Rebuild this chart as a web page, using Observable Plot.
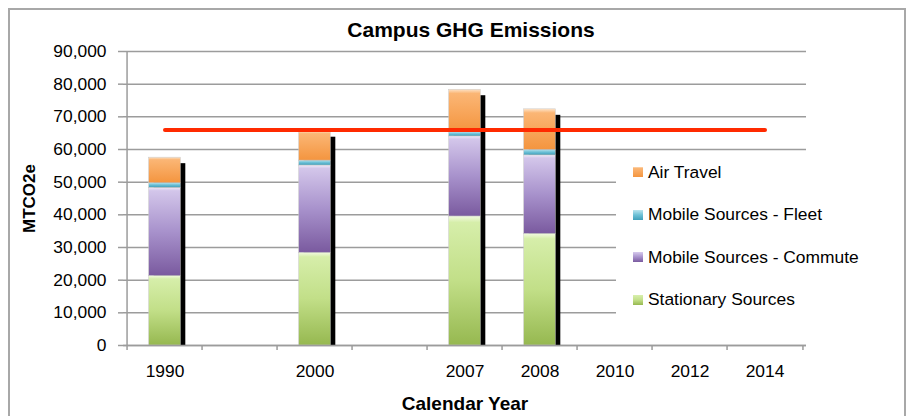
<!DOCTYPE html>
<html><head><meta charset="utf-8">
<script src="https://cdn.jsdelivr.net/npm/d3@7"></script>
<script src="https://cdn.jsdelivr.net/npm/@observablehq/plot@0.6"></script>
<style>
body{margin:0;background:#fff;font-family:"Liberation Sans",Arial,sans-serif;}
#wrap{position:relative;width:914px;height:416px;overflow:hidden;}
#border{position:absolute;left:8px;top:8px;width:898px;height:430px;border:2px solid #a8a8a8;box-sizing:border-box;pointer-events:none}
#legend{position:absolute;left:616px;top:152px;width:262px;height:172px;background:#fff;}
.item{position:absolute;left:0;height:20px;display:flex;align-items:center;font-size:17.4px;color:#000;white-space:nowrap}
.sw{width:10px;height:10px;margin-left:17px;margin-right:5px}
</style></head><body>
<div id="wrap"><div id="chart"></div><div id="legend"></div><div id="border"></div></div>
<script>
// ---- data ----
const categories = ["1990","1995","2000","2004","2007","2008","2010","2012","2014"];
const tickLabels = ["1990","","2000","","2007","2008","2010","2012","2014"];
const years = ["1990","2000","2007","2008"];
const stationary = [21300, 28400, 39500, 34200];
const commute    = [27000, 26700, 24500, 24000];
const fleet      = [1400, 1500, 1300, 1700];
const air        = [7800, 9000, 13000, 12400];
const seriesNames = ["Stationary Sources","Mobile Sources - Commute","Mobile Sources - Fleet","Air Travel"];
const yTicks = [0,10000,20000,30000,40000,50000,60000,70000,80000,90000];
const targetYears = ["1990","2014"];
const targetValue = 66000;

// ---- styling ----
const keys = ["stat","comm","fleet","air"];
const grads = {
  stat:  [["0%","#f3fae2"],["5%","#d6eeaa"],["50%","#c2df88"],["100%","#96b850"]],
  comm:  [["0%","#f1ecf8"],["4%","#d3c6ea"],["50%","#a892cc"],["100%","#7a5a9f"]],
  fleet: [["0%","#b9e4ee"],["50%","#6cc0d6"],["100%","#3f9fba"]],
  air:   [["0%","#fde3c8"],["10%","#fbb675"],["100%","#f4953f"]]
};
const rows = [];
[stationary, commute, fleet, air].forEach((vals, si) =>
  years.forEach((y, i) => rows.push({year: y, key: keys[si], value: vals[i]})));
const totals = years.map((y, i) => ({year: y, total: stationary[i] + commute[i] + fleet[i] + air[i]}));
const target = targetYears.map(y => ({year: y, value: targetValue}));

const W = 914, H = 416, mL = 123, mR = 108, mT = 51, mB = 71;
const bw = (W - mL - mR) / categories.length;
const inset = (bw - 32.5) / 2;
const grey = "#9c9c9c";
const font = "'Liberation Sans', Arial, sans-serif";

const chart = Plot.plot({
  width: W, height: H,
  marginLeft: mL, marginRight: mR, marginTop: mT, marginBottom: mB,
  style: {fontFamily: font, fontSize: "17px", color: "#000", background: "transparent", overflow: "visible"},
  x: {type: "band", domain: categories, padding: 0},
  y: {domain: [0, 90000]},
  color: {type: "identity"},
  marks: [
    Plot.gridY(yTicks, {stroke: grey, strokeOpacity: 1, strokeWidth: 1.5}),
    Plot.ruleX([categories[0]], {dx: -bw / 2, stroke: grey, strokeWidth: 1.5}),
    Plot.axisY(yTicks, {tickSize: 5, tickPadding: 12, tickFormat: d3.format(","), stroke: grey, strokeWidth: 1.5, fontSize: 17.4, label: null}),
    Plot.axisX(categories, {tickSize: 5, tickFormat: () => "", dx: -bw / 2, stroke: grey, strokeWidth: 1.5, label: null}),
    Plot.axisX([categories[categories.length - 1]], {tickSize: 5, tickFormat: () => "", dx: bw / 2, stroke: grey, strokeWidth: 1.5, label: null}),
    Plot.axisX(categories, {tickSize: 0, tickPadding: 19.5, tickFormat: d => tickLabels[categories.indexOf(d)], fontSize: 17.4, label: null}),
    Plot.barY(totals, {x: "year", y: "total", fill: "#000", dx: 5, insetTop: 6, insetLeft: inset, insetRight: inset}),
    Plot.barY(rows, {x: "year", y: "value", z: "key", fill: d => `url(#g-${d.key})`, insetLeft: inset, insetRight: inset, stroke: "#c8c8c8", strokeWidth: 0.5}),
    Plot.ruleY([0], {stroke: grey, strokeWidth: 1.5}),
    Plot.lineY(target, {x: "year", y: "value", stroke: "#ff2a00", strokeWidth: 4, strokeLinecap: "round"}),
    Plot.text(["Campus GHG Emissions"], {frameAnchor: "top", lineAnchor: "middle", dy: -21, dx: 6, text: d => d, fontSize: 21, fontWeight: "bold"}),
    Plot.text(["Calendar Year"], {frameAnchor: "bottom", lineAnchor: "middle", dy: 58, text: d => d, fontSize: 19, fontWeight: "bold"}),
    Plot.text(["MTCO2e"], {frameAnchor: "left", textAnchor: "middle", lineAnchor: "middle", dx: -94, rotate: -90, text: d => d, fontSize: 17, fontWeight: "bold"})
  ]
});

const defs = d3.select(chart).insert("defs", ":first-child");
for (const k of keys) {
  const g = defs.append("linearGradient").attr("id", "g-" + k).attr("x1", 0).attr("y1", 0).attr("x2", 0).attr("y2", 1);
  for (const [o, c] of grads[k]) g.append("stop").attr("offset", o).attr("stop-color", c);
}
document.getElementById("chart").appendChild(chart);

// legend (top to bottom: reverse of stack order)
const legend = d3.select("#legend");
const order = [3, 2, 1, 0];
order.forEach((si, j) => {
  const k = keys[si];
  const stops = grads[k].map(([o, c]) => `${c} ${o}`).join(",");
  const it = legend.append("div").attr("class", "item").style("top", (10 + j * 42.5) + "px");
  it.append("div").attr("class", "sw").style("background", `linear-gradient(${stops})`);
  it.append("span").text(seriesNames[si]);
});
</script>
</body></html>
